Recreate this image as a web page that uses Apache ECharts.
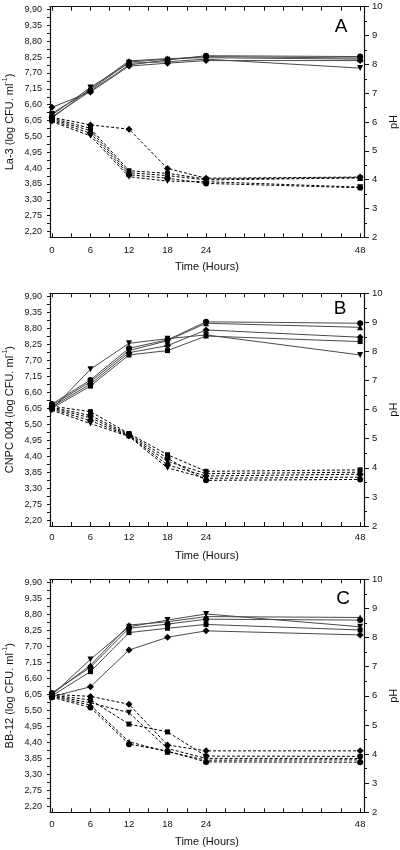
<!DOCTYPE html>
<html>
<head>
<meta charset="utf-8">
<script src="https://cdn.jsdelivr.net/npm/echarts@6/dist/echarts.min.js"></script>
<style>
html,body{margin:0;padding:0;background:#fff;}
#chart{width:400px;height:850px;}
</style>
</head>
<body>
<div id="chart"></div>
<script>
// ---- data ----
const hours = [0, 6, 12, 18, 24, 48];
const xTickLabels = [0, 6, 12, 18, 24, 48];
const xTicks = [0, 3, 6, 9, 12, 15, 18, 21, 24, 27, 30, 33, 36, 39, 42, 45, 48];
const leftTickLabels = [2.20, 2.75, 3.30, 3.85, 4.40, 4.95, 5.50, 6.05, 6.60, 7.15, 7.70, 8.25, 8.80, 9.35, 9.90];
const leftMinorTicks = [2.475, 3.025, 3.575, 4.125, 4.675, 5.225, 5.775, 6.325, 6.875, 7.425, 7.975, 8.525, 9.075, 9.625];
const panelLetters = ['A', 'B', 'C'];
const panelStrains = ['La-3', 'CNPC 004', 'BB-12'];

// Panel A (La-3): viable counts (log CFU/ml) and pH
const aCfuSquare  = [6.30, 7.11, 8.08, 8.18, 8.27, 8.22];
const aCfuCircle  = [6.18, 7.07, 7.98, 8.15, 8.30, 8.27];
const aCfuUp      = [6.13, 7.16, 8.12, 8.20, 8.23, 8.18];
const aCfuDown    = [6.24, 7.20, 8.04, 8.09, 8.18, 7.87];
const aCfuDiamond = [6.51, 7.04, 7.94, 8.04, 8.13, 8.13];
const aPhSquare   = [6.13, 5.78, 4.31, 4.22, 4.02, 4.07];
const aPhCircle   = [6.05, 5.61, 4.17, 4.05, 3.87, 3.72];
const aPhUp       = [6.09, 5.70, 4.24, 4.14, 3.99, 4.06];
const aPhDown     = [6.01, 5.52, 4.10, 3.95, 3.93, 3.74];
const aPhDiamond  = [6.16, 5.90, 5.75, 4.39, 4.05, 4.09];

// Panel B (CNPC 004)
const bCfuSquare  = [6.05, 6.81, 7.88, 8.03, 8.53, 8.34];
const bCfuCircle  = [6.19, 7.02, 8.11, 8.40, 9.02, 8.97];
const bCfuUp      = [6.15, 6.96, 8.03, 8.37, 8.97, 8.83];
const bCfuDown    = [6.01, 7.39, 8.28, 8.44, 8.57, 7.88];
const bCfuDiamond = [6.10, 6.88, 7.96, 8.20, 8.74, 8.49];
const bPhSquare   = [6.12, 5.93, 5.18, 4.45, 3.88, 3.93];
const bPhCircle   = [6.08, 5.80, 5.15, 4.33, 3.57, 3.60];
const bPhUp       = [6.05, 5.72, 5.12, 4.22, 3.80, 3.85];
const bPhDown     = [5.98, 5.52, 5.08, 4.00, 3.64, 3.68];
const bPhDiamond  = [6.02, 5.62, 5.10, 4.10, 3.72, 3.78];

// Panel C (BB-12)
const cCfuSquare  = [6.00, 6.83, 8.17, 8.32, 8.45, 8.26];
const cCfuCircle  = [6.10, 6.98, 8.32, 8.46, 8.63, 8.60];
const cCfuUp      = [6.06, 7.05, 8.43, 8.54, 8.72, 8.69];
const cCfuDown    = [6.03, 7.25, 8.37, 8.60, 8.81, 8.37];
const cCfuDiamond = [5.97, 6.31, 7.57, 8.01, 8.23, 8.09];
const cPhSquare   = [6.02, 5.86, 5.03, 4.76, 3.93, 3.92];
const cPhCircle   = [5.95, 5.60, 4.34, 4.10, 3.73, 3.72];
const cPhUp       = [5.98, 5.68, 4.42, 4.08, 3.79, 3.80];
const cPhDown     = [6.00, 5.76, 5.42, 4.19, 3.85, 3.85];
const cPhDiamond  = [6.05, 5.98, 5.71, 4.31, 4.11, 4.11];

const panels = [
  {cfu: [aCfuSquare, aCfuCircle, aCfuUp, aCfuDown, aCfuDiamond], ph: [aPhSquare, aPhCircle, aPhUp, aPhDown, aPhDiamond]},
  {cfu: [bCfuSquare, bCfuCircle, bCfuUp, bCfuDown, bCfuDiamond], ph: [bPhSquare, bPhCircle, bPhUp, bPhDown, bPhDiamond]},
  {cfu: [cCfuSquare, cCfuCircle, cCfuUp, cCfuDown, cCfuDiamond], ph: [cPhSquare, cPhCircle, cPhUp, cPhDown, cPhDiamond]}
];

// ---- styles / layout ----
const FONT = 'Liberation Sans, Arial, sans-serif';
const markerDefs = [
  {symbol: 'rect', size: 5, rotate: 0},
  {symbol: 'circle', size: 6, rotate: 0},
  {symbol: 'triangle', size: 6, rotate: 0},
  {symbol: 'triangle', size: 6, rotate: 180},
  {symbol: 'diamond', size: 7, rotate: 0}
];
const grids = [
  {left: 50, top: 6.7, width: 314, height: 230.6, containLabel: false, outerBoundsMode: 'none'},
  {left: 50, top: 293.3, width: 314, height: 232.7, containLabel: false, outerBoundsMode: 'none'},
  {left: 50, top: 579.3, width: 314, height: 233, containLabel: false, outerBoundsMode: 'none'}
];
const xLabelMargins = [8, 6, 7];
const letterPos = [[341, 27], [340, 309], [343, 599]];
const axisLineStyle = {color: '#111', width: 1.2};
const fmtComma = v => (Math.round(v * 100) / 100).toFixed(2).replace('.', ',');

const xAxes = [], yAxes = [], series = [], graphics = [];
grids.forEach((g, i) => {
  xAxes.push({
    type: 'value', gridIndex: i, position: 'bottom', min: -0.3, max: 48.6,
    axisLine: {show: true, onZero: false, lineStyle: axisLineStyle},
    axisTick: {show: true, inside: true, length: 4, customValues: xTicks, lineStyle: {color: '#111'}},
    axisLabel: {customValues: xTickLabels, fontSize: 9.5, color: '#111', fontFamily: FONT, margin: xLabelMargins[i]},
    splitLine: {show: false},
    name: 'Time (Hours)', nameLocation: 'middle', nameGap: 24, nameMoveOverlap: false,
    nameTextStyle: {fontSize: 11, color: '#111', fontFamily: FONT}
  });
  xAxes.push({
    type: 'value', gridIndex: i, position: 'top', min: -0.3, max: 48.6,
    axisLine: {show: true, onZero: false, lineStyle: axisLineStyle},
    axisTick: {show: true, inside: true, length: 4, customValues: xTicks, lineStyle: {color: '#111'}},
    axisLabel: {show: false},
    splitLine: {show: false}
  });
  yAxes.push({
    type: 'value', gridIndex: i, position: 'left', min: 2, max: 10,
    axisLine: {show: true, onZero: false, lineStyle: axisLineStyle},
    axisTick: {show: true, inside: false, length: 3, customValues: leftTickLabels.concat(leftMinorTicks), lineStyle: {color: '#111'}},
    axisLabel: {customValues: leftTickLabels, formatter: fmtComma, fontSize: 9, color: '#111', fontFamily: FONT, margin: 8},
    splitLine: {show: false},
    name: '{a|' + panelStrains[i] + ' (log CFU. ml}{s|-1}{a|)}',
    nameLocation: 'middle', nameGap: 35, nameRotate: 90, nameMoveOverlap: false,
    nameTextStyle: {
      color: '#111', fontFamily: FONT,
      rich: {
        a: {fontSize: 11, color: '#111', fontFamily: FONT, lineHeight: 13, verticalAlign: 'bottom'},
        s: {fontSize: 7, color: '#111', fontFamily: FONT, lineHeight: 7, verticalAlign: 'top'}
      }
    }
  });
  yAxes.push({
    type: 'value', gridIndex: i, position: 'right', min: 2, max: 10, interval: 1,
    axisLine: {show: true, onZero: false, lineStyle: axisLineStyle},
    axisTick: {show: true, inside: false, length: 5, lineStyle: {color: '#111'}},
    minorTick: {show: true, splitNumber: 2, length: 3, lineStyle: {color: '#111'}},
    axisLabel: {fontSize: 9.5, color: '#111', fontFamily: FONT, margin: 8},
    splitLine: {show: false},
    name: 'pH', nameLocation: 'middle', nameGap: 24, nameRotate: 90, nameMoveOverlap: false,
    nameTextStyle: {fontSize: 11, color: '#111', fontFamily: FONT}
  });

  const p = panels[i];
  p.cfu.forEach((vals, k) => {
    const m = markerDefs[k];
    series.push({
      type: 'line', xAxisIndex: 2 * i, yAxisIndex: 2 * i,
      data: hours.map((h, j) => [h, vals[j]]),
      symbol: m.symbol, symbolSize: m.size, symbolRotate: m.rotate, showSymbol: true,
      lineStyle: {color: '#4a4a4a', width: 1},
      itemStyle: {color: '#000'},
      animation: false, z: 3
    });
  });
  p.ph.forEach((vals, k) => {
    const m = markerDefs[k];
    series.push({
      type: 'line', xAxisIndex: 2 * i, yAxisIndex: 2 * i + 1,
      data: hours.map((h, j) => [h, vals[j]]),
      symbol: m.symbol, symbolSize: m.size, symbolRotate: m.rotate, showSymbol: true,
      lineStyle: {color: '#000', width: 1, type: [3, 2]},
      itemStyle: {color: '#000'},
      animation: false, z: 3
    });
  });

  graphics.push({
    type: 'text', x: letterPos[i][0], y: letterPos[i][1],
    style: {text: panelLetters[i], fontSize: 19, fontFamily: FONT, fill: '#000', align: 'center', verticalAlign: 'middle'}
  });
});

const chart = echarts.init(document.getElementById('chart'), null, {renderer: 'canvas'});
chart.setOption({
  animation: false,
  backgroundColor: '#fff',
  grid: grids,
  xAxis: xAxes,
  yAxis: yAxes,
  series: series,
  graphic: graphics
});
</script>
</body>
</html>
